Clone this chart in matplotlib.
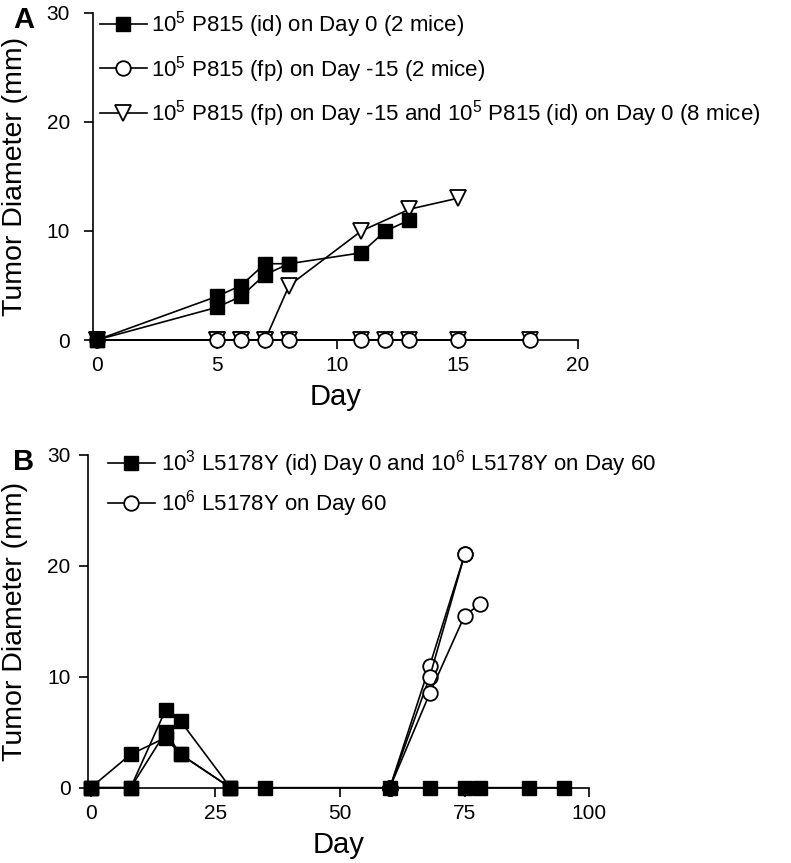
import numpy as np
import matplotlib.pyplot as plt

plt.rcParams['font.family'] = ['Liberation Sans', 'DejaVu Sans']
plt.rcParams['mathtext.default'] = 'regular'

# Panel A data (Day, tumor diameter mm), one list per mouse
a_sq_days = [[0, 5, 6, 7, 8, 11, 12, 13], [0, 5, 6, 7, 8]]
a_sq_vals = [[0, 4, 5, 7, 7, 8, 10, 11], [0, 3, 4, 6, 7]]
a_ci_days = [[0, 5, 6, 7, 8, 11, 12, 13, 15, 18]]
a_ci_vals = [[0, 0, 0, 0, 0, 0, 0, 0, 0, 0]]
a_tr_days = [[0, 5, 6, 7, 8, 11, 12, 13, 15, 18], [0, 5, 6, 7, 8, 11, 13, 15]]
a_tr_vals = [[0, 0, 0, 0, 0, 0, 0, 0, 0, 0], [0, 0, 0, 0, 5, 10, 12, 13]]
a_labels = ['10$^5$ P815 (id) on Day 0 (2 mice)',
            '10$^5$ P815 (fp) on Day -15 (2 mice)',
            '10$^5$ P815 (fp) on Day -15 and 10$^5$ P815 (id) on Day 0 (8 mice)']

# Panel B data
b_sq_days = [[0, 8, 15, 18, 28, 35, 60, 68, 75, 78, 88, 95],
             [0, 8, 15, 18, 28],
             [0, 8, 15, 18, 28]]
b_sq_vals = [[0, 3, 4.5, 3, 0, 0, 0, 0, 0, 0, 0, 0],
             [0, 0, 7, 6, 0],
             [0, 0, 5, 3, 0]]
b_ci_days = [[60, 68, 75], [60, 68, 75], [60, 68, 75, 78]]
b_ci_vals = [[0, 11, 21], [0, 10, 21], [0, 8.5, 15.5, 16.5]]
b_labels = ['10$^3$ L5178Y (id) Day 0 and 10$^6$ L5178Y on Day 60',
            '10$^6$ L5178Y on Day 60']

fig = plt.figure(figsize=(7.91, 8.63), dpi=100)
axA = fig.add_axes([0.1176, 0.606, 0.613, 0.379])
axB = fig.add_axes([0.111, 0.0873, 0.634, 0.386])

lw = 1.2
ms = 10.5
sq = dict(marker='s', color='black', mfc='black', mec='black', ms=ms, lw=lw, clip_on=False, zorder=5)
ci = dict(marker='o', color='black', mfc='white', mec='black', ms=ms, mew=1.3, lw=lw, clip_on=False, zorder=4)
tr = dict(marker='v', color='black', mfc='white', mec='black', ms=ms + 1, mew=1.3, lw=lw, clip_on=False, zorder=3)

# panel A
for d, v in zip(a_tr_days, a_tr_vals):
    axA.plot(d, v, **tr)
for d, v in zip(a_ci_days, a_ci_vals):
    axA.plot(d, v, **ci)
for d, v in zip(a_sq_days, a_sq_vals):
    axA.plot(d, v, **sq)
hA = [plt.Line2D([], [], **sq), plt.Line2D([], [], **ci), plt.Line2D([], [], **tr)]
axA.legend(hA, a_labels, loc='upper left', bbox_to_anchor=(0.0144, 1.012), frameon=False,
           fontsize=16, handlelength=2.1, handletextpad=0.2, labelspacing=0.62,
           borderaxespad=0, borderpad=0)
axA.set_xlim(-0.15, 20)
axA.set_xticks([0, 5, 10, 15, 20])

# panel B
for d, v in zip(b_ci_days, b_ci_vals):
    axB.plot(d, v, **ci)
for d, v in zip(b_sq_days, b_sq_vals):
    axB.plot(d, v, **sq)
hB = [plt.Line2D([], [], **sq), plt.Line2D([], [], **ci)]
axB.legend(hB, b_labels, loc='upper left', bbox_to_anchor=(0.04, 1.018), frameon=False,
           fontsize=16, handlelength=2.1, handletextpad=0.3, labelspacing=0.39,
           borderaxespad=0, borderpad=0)
axB.set_xlim(-0.6, 100)
axB.set_xticks([0, 25, 50, 75, 100])

for ax, lab, ly, ypad, ylx in [(axA, 'A', 0.977, 10, -0.134), (axB, 'B', 0.4647, 6, -0.120)]:
    ax.set_ylim(0, 30)
    ax.set_yticks([0, 10, 20, 30])
    for s in ['top', 'right']:
        ax.spines[s].set_visible(False)
    for s in ['left', 'bottom']:
        ax.spines[s].set_linewidth(1.2)
    ax.tick_params(direction='out', length=6.5, width=1.2, labelsize=15)
    ax.tick_params(axis='x', pad=5)
    ax.tick_params(axis='y', pad=ypad)
    ax.set_xlabel('Day', fontsize=21, labelpad=6)
    ax.set_ylabel('Tumor Diameter (mm)', fontsize=20.5)
    ax.yaxis.set_label_coords(ylx, 0.5)
    fig.text(0.0164, ly, lab, fontsize=21, fontweight='bold', va='center', ha='left')

plt.savefig('out.png', dpi=100)
